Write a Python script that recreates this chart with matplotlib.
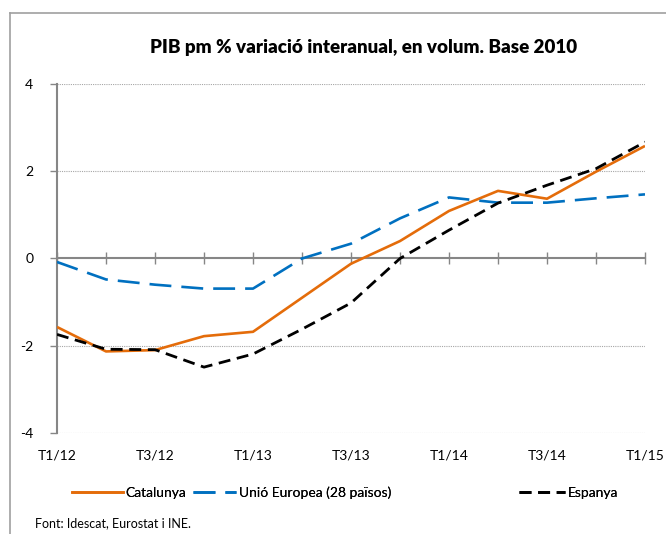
import matplotlib
matplotlib.use('Agg')
import matplotlib.pyplot as plt
from matplotlib.lines import Line2D

plt.rcParams['font.family'] = ['Lato', 'DejaVu Sans']

# dades
trimestres = ['T1/12', 'T2/12', 'T3/12', 'T4/12', 'T1/13', 'T2/13', 'T3/13',
              'T4/13', 'T1/14', 'T2/14', 'T3/14', 'T4/14', 'T1/15']
catalunya = [-1.57, -2.13, -2.10, -1.78, -1.68, -0.90, -0.12,
             0.40, 1.09, 1.55, 1.37, 1.99, 2.58]
ue28 = [-0.08, -0.48, -0.60, -0.69, -0.69, 0.00, 0.34,
        0.92, 1.40, 1.28, 1.28, 1.38, 1.47]
espanya = [-1.74, -2.08, -2.09, -2.49, -2.19, -1.62, -1.02,
           0.00, 0.65, 1.27, 1.68, 2.06, 2.67]
series = ['Catalunya', 'Unió Europea (28 països)', 'Espanya']

gris = '#868686'
estils = [
    dict(color='#E46C0A', lw=1.9, linestyle='-'),
    dict(color='#0070C0', lw=1.9, linestyle=(0, (8.3, 3.8))),
    dict(color='black', lw=2.0, linestyle=(0, (4.3, 2.4))),
]

fig = plt.figure(figsize=(6.66, 5.34), dpi=100)
ax = fig.add_axes([57 / 666, 1 - 433 / 534, (645 - 57) / 666, (433 - 84) / 534])

x = list(range(len(trimestres)))
ax.plot(x, catalunya, solid_capstyle='butt', zorder=3, **estils[0])
ax.plot(x, ue28, zorder=3, **estils[1])
ax.plot(x, espanya, zorder=4, **estils[2])

ax.set_xlim(0, 12)
ax.set_ylim(-4, 4)
ax.set_yticks([-4, -2, 0, 2, 4])
ax.set_yticklabels(['-4', '-2', '0', '2', '4'], fontsize=10)

# graella
for v in [-4, -2, 2, 4]:
    ax.axhline(v, color='#A6A6A6', lw=0.8, linestyle=(0, (1, 1)), zorder=1)

for s in ['top', 'right']:
    ax.spines[s].set_visible(False)
ax.spines['left'].set_color(gris)
ax.spines['left'].set_linewidth(1.5)
ax.spines['bottom'].set_position(('data', 0))
ax.spines['bottom'].set_color(gris)
ax.spines['bottom'].set_linewidth(1.5)

ax.set_xticks(x)
ax.tick_params(axis='x', direction='inout', length=9, width=1, color=gris,
               labelbottom=False)
ax.tick_params(axis='y', direction='out', length=5, width=1, color=gris, pad=12)

sec = ax.secondary_xaxis(0)
sec.set_xticks(x[::2])
sec.set_xticklabels(trimestres[::2], fontsize=10)
sec.tick_params(length=0, pad=12)
sec.spines['bottom'].set_visible(False)

fig.text(364 / 666, 1 - 47 / 534, 'PIB pm % variació interanual, en volum. Base 2010',
         ha='center', va='center', fontsize=13.5, fontweight='heavy')

# llegenda (tres blocs, com a l'original)
inici = [72, 193, 519]
llargada = [3.65, 3.1, 3.3]
for i in range(3):
    leg = fig.legend([Line2D([], [], **estils[i])], [series[i]],
                     loc='center left', bbox_to_anchor=(inici[i] / 666, 1 - 493 / 534),
                     frameon=False, fontsize=10, handlelength=llargada[i],
                     handletextpad=0.2, borderpad=0, borderaxespad=0)
    fig.add_artist(leg)

fig.text(35 / 666, 1 - 523 / 534, 'Font: Idescat, Eurostat i INE.',
         fontsize=9, va='center')

# marc
fig.add_artist(Line2D([10 / 666, 10 / 666], [0, 1 - 13 / 534], color='#A0A0A0',
                      lw=1.2, transform=fig.transFigure))
fig.add_artist(Line2D([10 / 666, 1], [1 - 13 / 534, 1 - 13 / 534], color='#A0A0A0',
                      lw=1.2, transform=fig.transFigure))

fig.savefig('out.png', dpi=100)
